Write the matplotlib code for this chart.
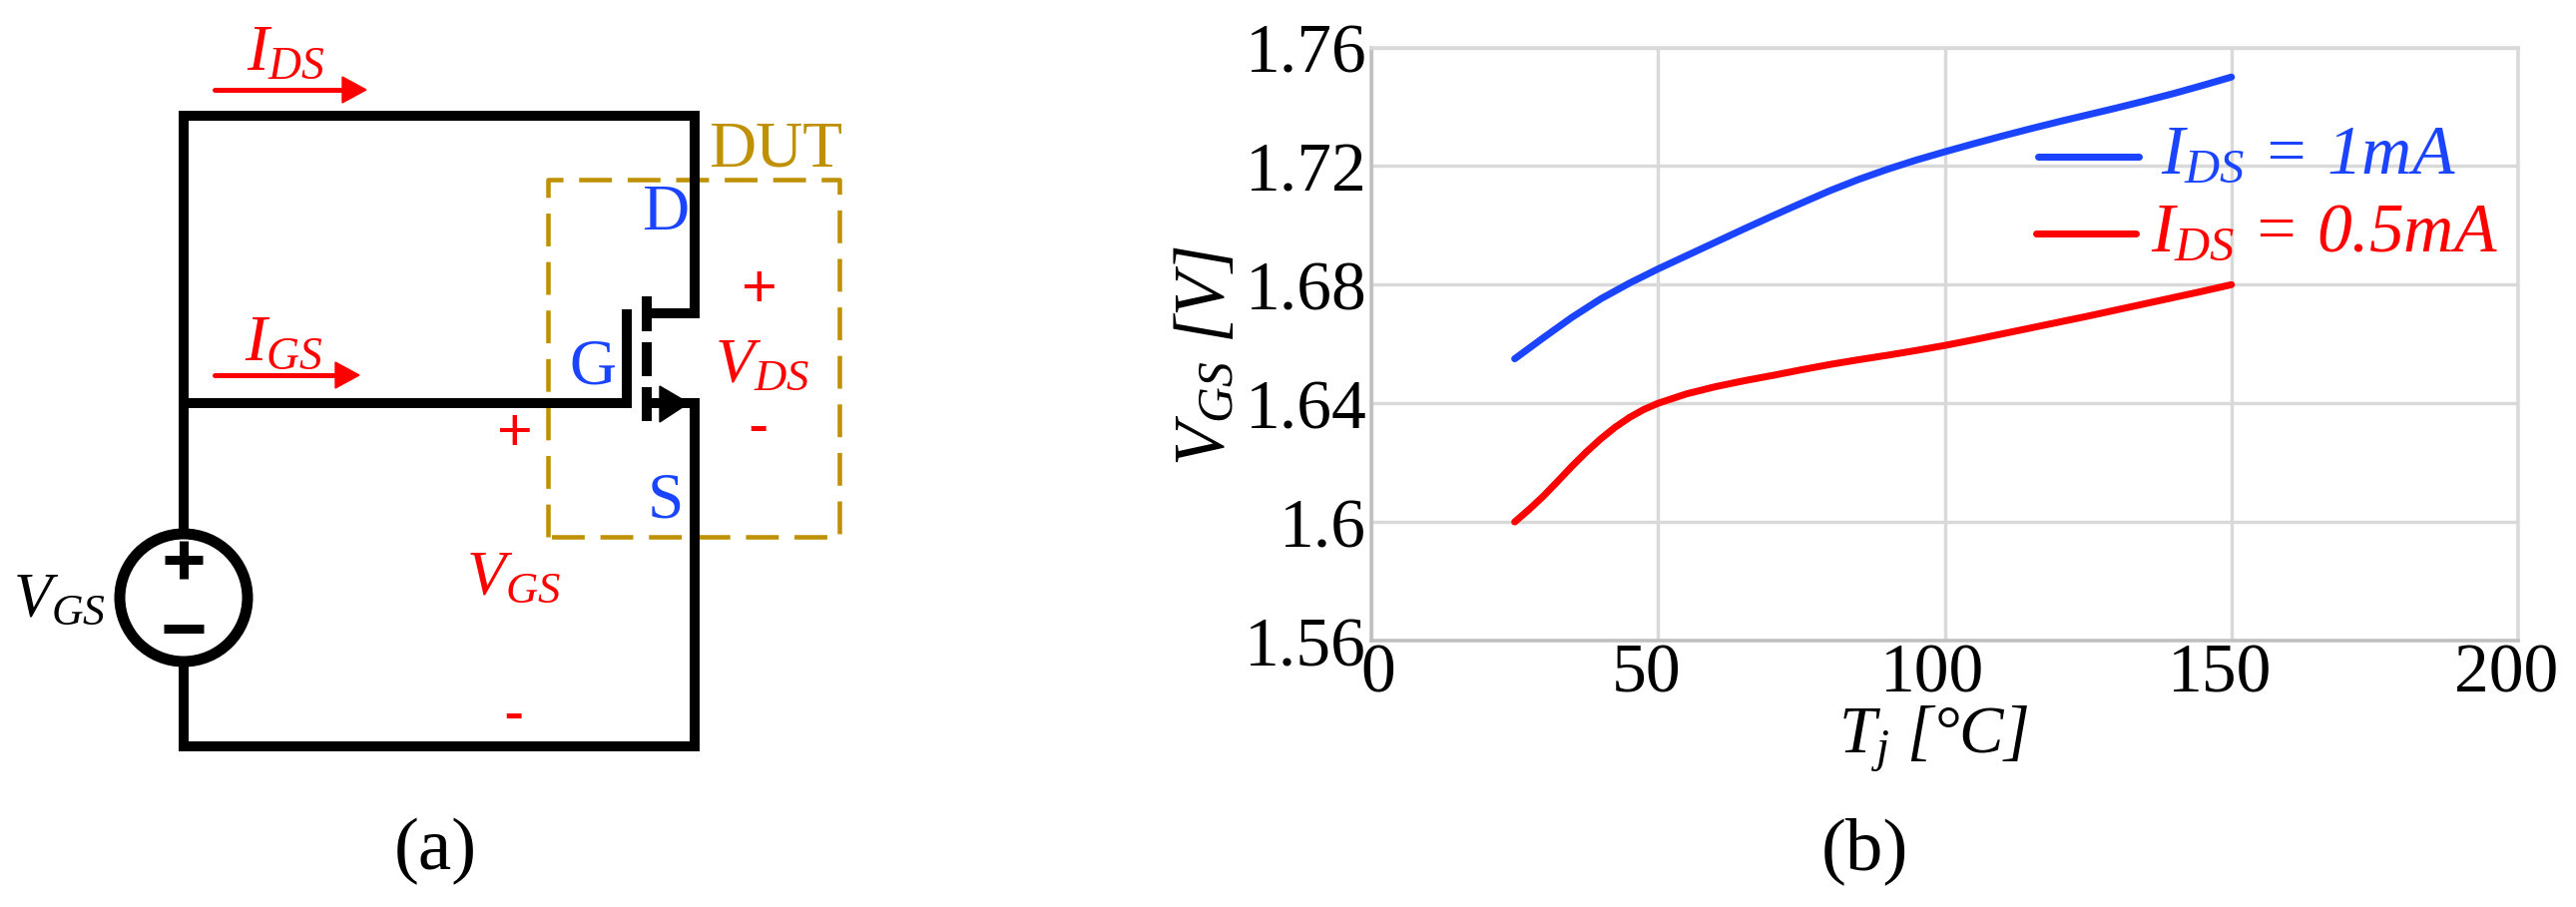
#Reproduction de la figure : circuit (a) et courbes VGS(Tj) (b)
import matplotlib
matplotlib.use("Agg")
import matplotlib.pyplot as plt
from matplotlib.patches import Circle, Polygon
from matplotlib.transforms import ScaledTranslation

W, H = 2581, 909
DPI = 100
PX = 72 / DPI

plt.rcParams['font.family'] = ['Liberation Serif', 'DejaVu Serif']
plt.rcParams['mathtext.fontset'] = 'custom'
plt.rcParams['mathtext.rm'] = 'Liberation Serif'
plt.rcParams['mathtext.it'] = 'Liberation Serif:italic'
plt.rcParams['mathtext.bf'] = 'Liberation Serif:bold'

#Donnees des courbes
tj_blue = [25, 30, 35, 40, 45, 50, 55, 60, 65, 70, 75, 80, 85, 90, 95, 100, 105, 110, 115, 120, 125, 130, 135, 140, 145, 150]
vgs_blue = [1.655, 1.6621, 1.669, 1.6752, 1.6805, 1.6853, 1.6898, 1.6943, 1.6988, 1.7032, 1.7075, 1.7117, 1.7155, 1.7189, 1.722, 1.7248,
            1.7275, 1.7301, 1.7326, 1.735, 1.7373, 1.7396, 1.742, 1.7445, 1.7472, 1.75]
tj_red = [25, 27.5, 30, 32.5, 35, 37.5, 40, 42.5, 45, 47.5, 50, 55, 60, 65, 70, 75, 80, 85, 90, 95, 100, 105, 110, 115, 120, 125, 130, 135, 140, 145, 150]
vgs_red = [1.6, 1.6042, 1.6087, 1.6137, 1.6188, 1.6236, 1.628, 1.6319, 1.6352, 1.6379, 1.64, 1.6432, 1.6456, 1.6476, 1.6494, 1.6513, 1.6531,
           1.6547, 1.6562, 1.6578, 1.6595, 1.6614, 1.6634, 1.6654, 1.6674, 1.6694, 1.6715, 1.6736, 1.6757, 1.6778, 1.68]
x_ticks = [0, 50, 100, 150, 200]
y_ticks = [1.56, 1.6, 1.64, 1.68, 1.72, 1.76]
y_tick_labels = ['1.56', '1.6', '1.64', '1.68', '1.72', '1.76']

BLUE = '#1a44ff'
RED = '#ff0000'
GOLD = '#bf9000'
GRID = '#d9d9d9'
AXIS = '#bfbfbf'

fig = plt.figure(figsize=(W / DPI, H / DPI), dpi=DPI)

#Calque en pixels pour le circuit et les textes
c = fig.add_axes([0, 0, 1, 1])
c.set_xlim(0, W)
c.set_ylim(H, 0)
c.axis('off')

#Fils du circuit
wires = [
    ([184, 184, 696, 696, 648], [531, 116, 116, 314, 314]),
    ([184, 184, 696, 696, 648], [667, 748, 748, 404, 404]),
    ([184, 184], [404, 531]),
    ([184, 628, 628], [404, 404, 310]),
    ([648, 648], [297, 332]),
    ([648, 648], [343, 377]),
    ([648, 648], [388, 422]),
]
for wx, wy in wires:
    c.plot(wx, wy, color='black', lw=10 * PX, solid_joinstyle='miter', solid_capstyle='butt', zorder=3)
c.add_patch(Polygon([(661, 387), (661, 423), (690, 404)], closed=True, color='black', zorder=3))

#Source de tension
c.add_patch(Circle((184, 599), 64, fill=False, ec='black', lw=11 * PX, zorder=3))
c.plot([165, 203], [561, 561], color='black', lw=9 * PX, solid_capstyle='butt')
c.plot([184, 184], [542, 580], color='black', lw=9 * PX, solid_capstyle='butt')
c.plot([164, 204], [630, 630], color='black', lw=9 * PX, solid_capstyle='butt')

#Boite DUT
c.plot([549, 549, 841, 841, 549], [538, 180, 180, 538, 538], color=GOLD, lw=4.5 * PX,
       dashes=(7.3, 3.5), zorder=2)

#Fleches des courants
for x0, x1, xh, y in [(215, 367, 343, 90), (215, 360, 336, 376)]:
    c.plot([x0, xh], [y, y], color=RED, lw=5 * PX, solid_capstyle='round')
    c.add_patch(Polygon([(xh, y - 13), (xh, y + 13), (x1, y)], closed=True, color=RED))

#Textes du circuit
def label(x, y, s, color='black', size=47, **kw):
    c.text(x, y, s, color=color, fontsize=size, ha='center', va='center', **kw)

label(287, 54, r'$I_{DS}$', RED, 47)
label(285, 345, r'$I_{GS}$', RED, 47)
label(763, 368, r'$V_{DS}$', RED, 46)
label(514, 581, r'$V_{GS}$', RED, 46)
label(59, 603, r'$V_{GS}$', 'black', 45)
label(777, 151, 'DUT', GOLD, 47)
label(667, 214, 'D', BLUE, 47)
label(594, 369, 'G', BLUE, 47)
label(667, 503, 'S', BLUE, 47)
label(761, 291, '+', RED, 44, family='Liberation Sans')
label(516, 436, '+', RED, 44, family='Liberation Sans')
label(759, 431, '-', RED, 44, family='Liberation Sans')
label(514, 719, '-', RED, 44, family='Liberation Sans')
label(436, 853, '(a)', 'black', 54)
label(1868, 853, '(b)', 'black', 54)

#Graphe (b)
ax = fig.add_axes([1374 / W, 1 - 642 / H, (2523 - 1374) / W, (642 - 47.5) / H])
ax.patch.set_alpha(0)
ax.plot(tj_blue, vgs_blue, color=BLUE, lw=7 * PX, solid_capstyle='round', solid_joinstyle='round', zorder=4)
ax.plot(tj_red, vgs_red, color=RED, lw=7 * PX, solid_capstyle='round', solid_joinstyle='round', zorder=4)
ax.set_xlim(0, 200)
ax.set_ylim(1.56, 1.76)
ax.set_xticks(x_ticks, [str(t) for t in x_ticks])
ax.set_yticks(y_ticks, y_tick_labels)
ax.grid(True, color=GRID, lw=3.4 * PX)
ax.set_axisbelow(True)
for name, s in ax.spines.items():
    s.set_color(AXIS if name in ('left', 'bottom') else GRID)
    s.set_linewidth(3.5 * PX)
ax.tick_params(axis='both', length=0, labelsize=50, pad=2)
for lab, t in zip(ax.get_xticklabels(), x_ticks):
    dx = 7 if t == 0 else -12
    lab.set_transform(lab.get_transform() + ScaledTranslation(dx / DPI, 0, fig.dpi_scale_trans))
for lab in ax.get_yticklabels():
    lab.set_transform(lab.get_transform() + ScaledTranslation(-2 / DPI, -1 / DPI, fig.dpi_scale_trans))

c.text(1937, 755, r'$T_j$ [°C]', color='black', fontsize=48, style='italic', ha='center', va='baseline')
c.text(1227, 357, r'$V_{GS}$ [V]', color='black', fontsize=51, style='italic', ha='center', va='baseline',
       rotation=90, rotation_mode='anchor')

#Legende
c.plot([2042, 2143], [157, 157], color=BLUE, lw=7 * PX, solid_capstyle='round')
c.plot([2040, 2140], [234, 234], color=RED, lw=7 * PX, solid_capstyle='round')
c.text(2165, 173, r'$I_{DS}$ = 1mA', color=BLUE, fontsize=50, style='italic', ha='left', va='baseline', zorder=5)
c.text(2155, 251, r'$I_{DS}$ = 0.5mA', color=RED, fontsize=50, style='italic', ha='left', va='baseline', zorder=5)
c.set_zorder(ax.get_zorder() + 1)

fig.savefig('out.png', dpi=DPI)
